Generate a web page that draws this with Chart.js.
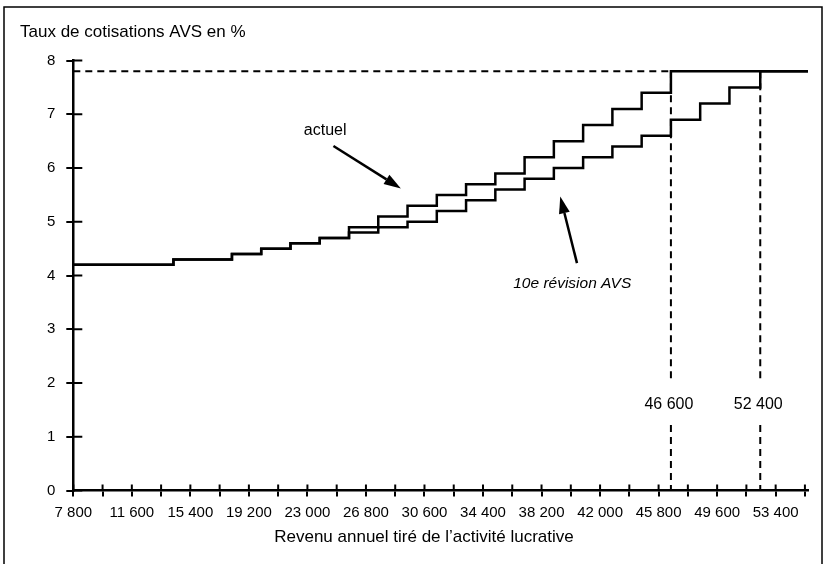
<!DOCTYPE html>
<html><head><meta charset="utf-8">
<script src="https://cdn.jsdelivr.net/npm/chart.js@4.4.1/dist/chart.umd.min.js"></script>
<style>html,body{margin:0;padding:0;background:#fff}#c{display:block}</style>
</head><body>
<canvas id="c" width="826" height="564"></canvas>
<script>
// ---- data ----
const actuelIncome   = [7800, 14300, 18100, 20000, 21900, 23800, 25700, 27600, 29500, 31400, 33300, 35200, 37100, 39000, 40900, 42800, 44700, 46600, 55500];
const actuelRate     = [4.2, 4.3, 4.4, 4.5, 4.6, 4.7, 4.9, 5.1, 5.3, 5.5, 5.7, 5.9, 6.2, 6.5, 6.8, 7.1, 7.4, 7.8, 7.8];
const revisionIncome = [7800, 14300, 18100, 20000, 21900, 23800, 25700, 27600, 29500, 31400, 33300, 35200, 37100, 39000, 40900, 42800, 44700, 46600, 48500, 50400, 52400, 55500];
const revisionRate   = [4.2, 4.3, 4.4, 4.5, 4.6, 4.7, 4.8, 4.9, 5.0, 5.2, 5.4, 5.6, 5.8, 6.0, 6.2, 6.4, 6.6, 6.9, 7.2, 7.5, 7.8, 7.8];
const xTicks = [7800, 9700, 11600, 13500, 15400, 17300, 19200, 21100, 23000, 24900, 26800, 28700, 30600, 32500, 34400, 36300, 38200, 40100, 42000, 43900, 45800, 47700, 49600, 51500, 53400, 55300];
const xTickLabels = ['7 800', '', '11 600', '', '15 400', '', '19 200', '', '23 000', '', '26 800', '', '30 600', '', '34 400', '', '38 200', '', '42 000', '', '45 800', '', '49 600', '', '53 400', ''];
const yTicks = [0, 1, 2, 3, 4, 5, 6, 7, 8];
const yTickLabels = ['0', '1', '2', '3', '4', '5', '6', '7', '8'];
const maxRate = 7.8;
const markerIncome = [46600, 52400];
const markerLabels = ['46 600', '52 400'];
const markerLabelRate = 1.59;
const yTitle = 'Taux de cotisations AVS en %';
const xTitle = 'Revenu annuel tiré de l’activité lucrative';
const labelActuel = 'actuel';
const labelRevision = '10e révision AVS';
// annotation anchors in data units
const actuelText = [24150, 6.69];
const actuelArrow = [24689, 6.41, 29067, 5.62];
const revisionText = [40194, 3.85];
const revisionArrow = [40500, 4.23, 39415, 5.47];

const FONT = 'Liberation Sans, Arial, Helvetica, sans-serif';

function arrow(ctx, x1, y1, x2, y2) {
  const a = Math.atan2(y2 - y1, x2 - x1);
  const L = 17, W = 5.5;
  const bx = x2 - L * Math.cos(a), by = y2 - L * Math.sin(a);
  ctx.beginPath();
  ctx.moveTo(x1, y1);
  ctx.lineTo(bx, by);
  ctx.stroke();
  ctx.beginPath();
  ctx.moveTo(x2, y2);
  ctx.lineTo(bx + W * Math.sin(a), by - W * Math.cos(a));
  ctx.lineTo(bx - W * Math.sin(a), by + W * Math.cos(a));
  ctx.closePath();
  ctx.fill();
}

const overlay = {
  id: 'overlay',
  beforeDatasetsDraw(chart) {
    const {ctx, scales: {x, y}} = chart;
    ctx.save();
    ctx.strokeStyle = '#000';
    ctx.lineWidth = 2;
    ctx.setLineDash([7, 5]);
    const yCap = y.getPixelForValue(maxRate);
    ctx.beginPath();
    ctx.moveTo(x.getPixelForValue(xTicks[0]), yCap);
    ctx.lineTo(x.getPixelForValue(markerIncome[0]), yCap);
    ctx.stroke();
    const ly = y.getPixelForValue(markerLabelRate);
    markerIncome.forEach(v => {
      const px = x.getPixelForValue(v);
      ctx.beginPath();
      ctx.moveTo(px, yCap);
      ctx.lineTo(px, ly - 22);
      ctx.stroke();
      ctx.beginPath();
      ctx.moveTo(px, ly + 20);
      ctx.lineTo(px, y.getPixelForValue(0));
      ctx.stroke();
    });
    ctx.restore();
  },
  afterDraw(chart) {
    const {ctx, scales: {x, y}} = chart;
    ctx.save();
    ctx.strokeStyle = '#000';
    ctx.fillStyle = '#000';
    // inner parts of tick marks (ticks cross the axes)
    ctx.lineWidth = 2;
    const y0 = y.getPixelForValue(0);
    x.ticks.forEach(t => {
      const px = x.getPixelForValue(t.value);
      ctx.beginPath(); ctx.moveTo(px, y0); ctx.lineTo(px, y0 - 6); ctx.stroke();
    });
    const x0 = x.getPixelForValue(xTicks[0]);
    y.ticks.forEach(t => {
      const py = y.getPixelForValue(t.value);
      ctx.beginPath(); ctx.moveTo(x0, py); ctx.lineTo(x0 + 9, py); ctx.stroke();
    });
    // marker labels
    ctx.font = '16px ' + FONT;
    ctx.textAlign = 'center';
    ctx.textBaseline = 'middle';
    markerIncome.forEach((v, i) => {
      ctx.fillText(markerLabels[i], x.getPixelForValue(v) - 2, y.getPixelForValue(markerLabelRate));
    });
    // annotations
    ctx.fillText(labelActuel, x.getPixelForValue(actuelText[0]), y.getPixelForValue(actuelText[1]));
    ctx.font = 'italic 15.5px ' + FONT;
    ctx.fillText(labelRevision, x.getPixelForValue(revisionText[0]), y.getPixelForValue(revisionText[1]));
    ctx.lineWidth = 2.5;
    arrow(ctx, x.getPixelForValue(actuelArrow[0]), y.getPixelForValue(actuelArrow[1]),
               x.getPixelForValue(actuelArrow[2]), y.getPixelForValue(actuelArrow[3]));
    arrow(ctx, x.getPixelForValue(revisionArrow[0]), y.getPixelForValue(revisionArrow[1]),
               x.getPixelForValue(revisionArrow[2]), y.getPixelForValue(revisionArrow[3]));
    // axis titles
    ctx.font = '17px ' + FONT;
    ctx.textAlign = 'left';
    ctx.fillText(yTitle, 20, 32);
    ctx.textAlign = 'center';
    ctx.fillText(xTitle, 424, 537);
    // frame
    ctx.lineWidth = 1.5;
    ctx.strokeRect(4, 7, 818, 600);
    ctx.restore();
  }
};

const lineStyle = {
  borderColor: '#000', borderWidth: 2.5, pointRadius: 0, stepped: true,
  fill: false, borderJoinStyle: 'miter', borderCapStyle: 'butt'
};

new Chart(document.getElementById('c'), {
  type: 'line',
  data: {
    datasets: [
      Object.assign({label: 'actuel', data: actuelIncome.map((v, i) => ({x: v, y: actuelRate[i]}))}, lineStyle),
      Object.assign({label: '10e révision AVS', data: revisionIncome.map((v, i) => ({x: v, y: revisionRate[i]}))}, lineStyle)
    ]
  },
  options: {
    responsive: false,
    animation: false,
    events: [],
    layout: {padding: {left: 0, right: 18, top: 60.5, bottom: 0}},
    plugins: {legend: {display: false}, tooltip: {enabled: false}, title: {display: false}},
    scales: {
      x: {
        type: 'linear', min: 7800, max: 55500,
        afterBuildTicks: s => { s.ticks = xTicks.map(v => ({value: v})); },
        afterFit: s => { s.height = 73.5; },
        ticks: {
          callback: (v, i) => xTickLabels[i],
          autoSkip: false, maxRotation: 0, minRotation: 0,
          color: '#000', padding: 7,
          font: {family: FONT, size: 15}
        },
        grid: {display: true, drawOnChartArea: false, drawTicks: true, tickLength: 6, lineWidth: 2, color: '#000'},
        border: {display: true, width: 2.5, color: '#000'}
      },
      y: {
        type: 'linear', min: 0, max: 8,
        afterBuildTicks: s => { s.ticks = yTicks.map(v => ({value: v})); },
        afterFit: s => { s.width = 73.3; },
        ticks: {
          callback: (v, i) => yTickLabels[i],
          color: '#000', padding: 11,
          font: {family: FONT, size: 15}
        },
        grid: {display: true, drawOnChartArea: false, drawTicks: true, tickLength: 7, lineWidth: 2, color: '#000'},
        border: {display: true, width: 2.5, color: '#000'}
      }
    }
  },
  plugins: [overlay]
});
</script>
</body></html>
